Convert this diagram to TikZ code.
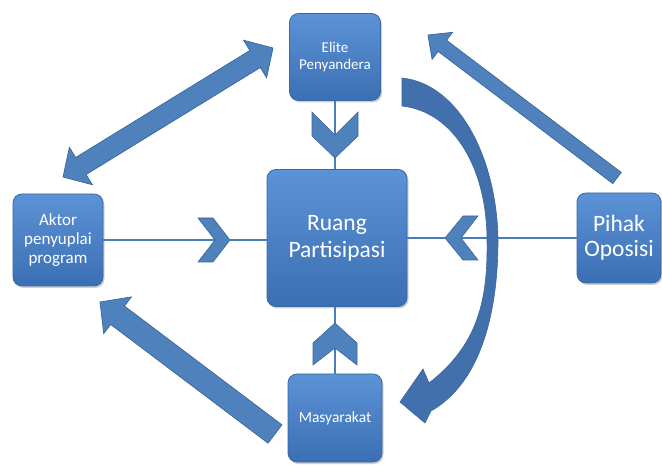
\documentclass[tikz,border=0pt]{standalone}
\usepackage{fontspec}
\setmainfont{Carlito}
\usetikzlibrary{calc,shadows}
\definecolor{boxtop}{HTML}{5C93D6}
\definecolor{boxbot}{HTML}{3B6FB3}
\definecolor{boxedge}{HTML}{3A68A6}
\definecolor{arrfill}{HTML}{4F81BD}
\definecolor{arredge}{HTML}{3B679C}
\definecolor{curvefill}{HTML}{4170AD}
\definecolor{linecol}{HTML}{4A7EBB}
\tikzset{
 box/.style={rectangle, rounded corners=9pt, draw=boxedge, line width=0.8pt,
   top color=boxtop, bottom color=boxbot, text=white, align=center, inner sep=2pt,
   drop shadow={shadow xshift=1.5pt, shadow yshift=-2pt, opacity=0.3, fill=black!60}},
 conn/.style={draw=linecol, line width=1.5pt},
 chev/.style={fill=arrfill, draw=arredge, line width=0.6pt, line join=miter},
 blockarrow/.style={fill=arrfill, draw=arredge, line width=0.7pt, line join=miter},
}
\newcommand{\sarrow}[5]{%
 \coordinate (q) at ($(#2)!#5!(#1)$);
 \draw[blockarrow] ($(#1)!#3!90:(#2)$) -- ($(q)!#3!90:(#2)$) -- ($(q)!#4!90:(#2)$) -- (#2)
   -- ($(q)!#4!-90:(#2)$) -- ($(q)!#3!-90:(#2)$) -- ($(#1)!#3!-90:(#2)$) -- cycle;}
\newcommand{\darrow}[5]{%
 \coordinate (qa) at ($(#1)!#5!(#2)$);
 \coordinate (qb) at ($(#2)!#5!(#1)$);
 \draw[blockarrow] ($(qa)!#3!90:(#2)$) -- ($(qb)!#3!-90:(#1)$) -- ($(qb)!#4!-90:(#1)$) -- (#2)
   -- ($(qb)!#4!90:(#1)$) -- ($(qb)!#3!90:(#1)$) -- ($(qa)!#3!-90:(#2)$) -- ($(qa)!#4!-90:(#2)$)
   -- (#1) -- ($(qa)!#4!90:(#2)$) -- cycle;}
\begin{document}
\begin{tikzpicture}[x=1pt,y=-1pt]
\fill[white] (0,0) rectangle (662,465);
\useasboundingbox (0,0) rectangle (662,465);

% nodes
\node[box, minimum width=91pt, minimum height=87pt, font=\fontsize{15}{17}\selectfont] (elite) at (335,57) {Elite\\Penyandera};
\node[box, minimum width=140pt, minimum height=137pt, font=\fontsize{23.5}{27}\selectfont] (ruang) at (337,238) {Ruang\\Partisipasi};
\node[box, minimum width=90pt, minimum height=92pt, font=\fontsize{17}{19}\selectfont] (aktor) at (58,240) {Aktor\\penyuplai\\program};
\node[box, minimum width=84pt, minimum height=90pt, font=\fontsize{23.5}{25}\selectfont] (pihak) at (619,238) {Pihak\\Oposisi};
\node[box, minimum width=94pt, minimum height=88pt, font=\fontsize{15.5}{17}\selectfont] (masy) at (335,418) {Masyarakat};

% connector lines
\draw[conn] (elite.south) -- (elite.south |- ruang.north);
\draw[conn] (masy.north) -- (masy.north |- ruang.south);
\draw[conn] (aktor.east) -- (aktor.east -| ruang.west);
\draw[conn] (pihak.west) -- (ruang.east);

% chevrons
\draw[chev] (312,112) -- (335,135) -- (358,112) -- (358,136) -- (335,158) -- (312,136) -- cycle;
\draw[chev] (313,365) -- (335,348) -- (357,365) -- (357,343) -- (335,323) -- (313,343) -- cycle;
\draw[chev] (198,218) -- (213,218) -- (230,240) -- (213,262) -- (198,262) -- (215,240) -- cycle;
\draw[chev] (478,216) -- (463,216) -- (445,238) -- (463,260) -- (478,260) -- (461,238) -- cycle;

% block arrows
\coordinate (aA) at (63,177);
\coordinate (aB) at (273,48);
\darrow{aA}{aB}{10pt}{22pt}{21pt}
\coordinate (pT) at (617,178);
\coordinate (pP) at (428,35);
\sarrow{pT}{pP}{7pt}{17pt}{18pt}
\coordinate (mT) at (275,434);
\coordinate (mP) at (100,302);
\sarrow{mT}{mP}{11.5pt}{23pt}{22pt}

% curved arrow
\draw[fill=curvefill, draw=arredge, line width=0.6pt, line join=miter]
 (402,78) .. controls (460,84) and (497,160) .. (498,240)
 .. controls (498,310) and (482,382) .. (431,411)
 -- (425,423) -- (400,402) -- (423,369) -- (429,383)
 .. controls (478,345) and (488,300) .. (487,240)
 .. controls (487,170) and (455,112) .. (402,106) -- cycle;
\end{tikzpicture}
\end{document}
